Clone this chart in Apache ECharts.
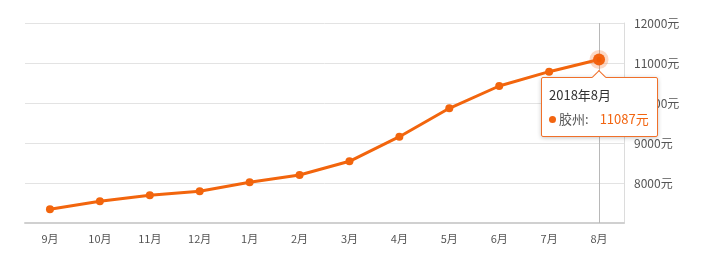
<!DOCTYPE html>
<html><head><meta charset="utf-8">
<script src="https://cdn.jsdelivr.net/npm/echarts@6/dist/echarts.min.js"></script>
<style>html,body{margin:0;padding:0;background:#fff}#c{width:718px;height:256px}</style>
</head><body><div id="c"></div>
<script>
const categories = ['9月','10月','11月','12月','1月','2月','3月','4月','5月','6月','7月','8月'];
const prices = [7342, 7542, 7692, 7792, 8017, 8200, 8542, 9158, 9867, 10425, 10783, 11087];
const seriesName = '胶州';
const tipTitle = '2018年8月';
const yTicks = [7000, 12000, 1000];

const chart = echarts.init(document.getElementById('c'));
const last = prices.length - 1;
const font = '"Noto Sans CJK SC", "Noto Sans", sans-serif';
const cssFont = font.replace(/"/g, "'");
chart.setOption({
  animation: false,
  textStyle: { fontFamily: font },
  grid: { left: 25, right: 94, top: 23, bottom: 33 },
  tooltip: {
    trigger: 'item',
    alwaysShowContent: true,
    backgroundColor: '#fff',
    borderColor: '#f0702a',
    borderWidth: 1,
    borderRadius: 2,
    padding: [5, 8, 5, 7],
    extraCssText: 'box-shadow:0 1px 4px rgba(0,0,0,0.22);overflow:visible;',
    position: function (point, params, dom, rect, size) {
      const px = chart.convertToPixel({ seriesIndex: 1 }, [last, prices[last]]);
      return [px[0] - size.contentSize[0] / 2, px[1] + 17];
    },
    formatter: function (p) {
      return '<div style="position:absolute;left:50%;top:-6px;width:9px;height:9px;margin-left:-5px;background:#fff;' +
        'border-top:1px solid #f0702a;border-left:1px solid #f0702a;transform:rotate(45deg);"></div>' +
        '<div style="font-family:' + cssFont + ';font-size:13px;line-height:24px;color:#333">' + tipTitle + '</div>' +
        '<div style="font-family:' + cssFont + ';font-size:13px;line-height:24px;color:#555">' +
        '<span style="display:inline-block;width:7px;height:7px;border-radius:50%;background:#f26511;margin-right:3px;vertical-align:1px"></span>' +
        p.seriesName + ':<span style="color:#f26511;margin-left:11px">' + p.value + '元</span></div>';
    }
  },
  xAxis: {
    type: 'category',
    data: categories,
    boundaryGap: true,
    axisLine: { lineStyle: { color: '#d0d0d0', width: 2 } },
    axisTick: { alignWithLabel: true, length: 4, lineStyle: { color: '#d0d0d0' } },
    axisLabel: { color: '#555', fontSize: 11, margin: 10 },
    splitLine: { show: false }
  },
  yAxis: {
    type: 'value',
    position: 'right',
    min: yTicks[0], max: yTicks[1], interval: yTicks[2],
    axisLine: { show: true, lineStyle: { color: '#dcdcdc', width: 1 } },
    axisTick: { show: false },
    axisLabel: { color: '#555', fontSize: 12, margin: 10, showMinLabel: false,
      formatter: function (v) { return v + '元'; } },
    splitLine: { lineStyle: { color: '#e3e3e3' } }
  },
  series: [{
    name: 'guide',
    type: 'line',
    z: 1,
    data: [],
    silent: true,
    tooltip: { show: false },
    markLine: {
      z: 1,
      silent: true,
      symbol: 'none',
      label: { show: false },
      lineStyle: { color: '#b8b8b8', type: 'solid', width: 1 },
      data: [{ xAxis: categories[last] }]
    }
  }, {
    name: seriesName,
    type: 'line',
    z: 3,
    data: prices.map(function (v, i) {
      return i === last ? {
        value: v, symbolSize: 12,
        itemStyle: { color: '#f25c05', borderColor: 'rgba(246,120,50,0.28)', borderWidth: 7 }
      } : v;
    }),
    symbol: 'circle',
    symbolSize: 8,
    lineStyle: { color: '#f2650d', width: 3 },
    itemStyle: { color: '#f2650d' },
    emphasis: { disabled: true }
  }]
});
setTimeout(function () {
  chart.dispatchAction({ type: 'showTip', seriesIndex: 1, dataIndex: last });
}, 50);
</script></body></html>
